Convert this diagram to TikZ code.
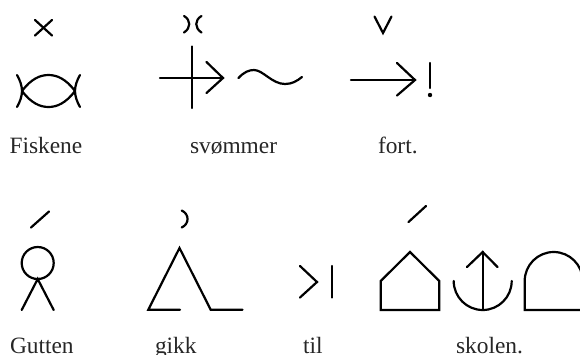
\documentclass[tikz,border=0pt]{standalone}
\usepackage{fontspec}
\setmainfont{Liberation Serif}
\tikzset{
  bliss/.style={draw=black,line width=2.2pt,line cap=round,line join=miter},
  word/.style={anchor=base west,inner sep=0pt,outer sep=0pt,text=black!85,font=\fontsize{23.4}{26}\selectfont}
}
\begin{document}
\begin{tikzpicture}[x=1pt,y=-1pt]
\useasboundingbox (0,0) rectangle (580,354);
\clip (0,0) rectangle (580,354);
% Row 1: fish
\draw[bliss] (35,20) -- (52,35.5) (52,20) -- (35,35.5);
\draw[bliss] (22,91) .. controls (31,79) and (40,75) .. (48.5,75) .. controls (57,75) and (66,79) .. (75,91);
\draw[bliss] (22,91) .. controls (31,103) and (40,107) .. (48.5,107) .. controls (57,107) and (66,103) .. (75,91);
\draw[bliss] (17,75) .. controls (20,80) and (22,86) .. (22,91) .. controls (22,96) and (20,102) .. (17,107);
\draw[bliss] (80,75) .. controls (77,80) and (75,86) .. (75,91) .. controls (75,96) and (77,102) .. (80,107);
% swim
\draw[bliss] (184,16) .. controls (191,20) and (191,28) .. (184,32.5);
\draw[bliss] (201.5,16) .. controls (194.5,20) and (194.5,28) .. (201.5,32.5);
\draw[bliss] (191.7,46.5) -- (191.7,108);
\draw[bliss] (160,78) -- (223,78);
\draw[bliss] (206.5,62) -- (223,78) -- (206.5,93);
\draw[bliss] (238.5,78) .. controls (244,72) and (249,70) .. (254,70) .. controls (263,70) and (272,84) .. (285,84) .. controls (292,84) and (297,81) .. (302,77);
% fast
\draw[bliss] (374.5,16.5) -- (383,33) -- (391.5,16.5);
\draw[bliss] (351,80) -- (415,80);
\draw[bliss] (397,63) -- (415,80) -- (397,95.5);
\draw[bliss] (430,63) -- (430,88);
\fill[black] (430,95) circle (2.2);
% Row 2: boy
\draw[bliss] (31,227.5) -- (49,211.5);
\draw[bliss] (37.7,263) circle (16);
\draw[bliss] (21.7,310) -- (37.7,279) -- (53.7,310);
% went
\draw[bliss] (181.7,210.5) .. controls (189.5,214) and (189.5,224) .. (181.7,227.5);
\draw[bliss] (180,309.7) -- (148.3,309.7) -- (179.5,248) -- (210.7,309.7) -- (242.5,309.7);
% to
\draw[bliss] (300,266) -- (317,282) -- (300,297.5);
\draw[bliss] (332,266) -- (332,297.5);
% school
\draw[bliss] (408.5,222) -- (426,206);
\draw[bliss] (380.7,310) -- (380.7,281) -- (410,252) -- (439.3,281) -- (439.3,310) -- cycle;
\draw[bliss] (453.7,281) .. controls (453.7,297) and (466.7,310) .. (482.7,310) .. controls (498.7,310) and (511.7,297) .. (511.7,281);
\draw[bliss] (482.7,252) -- (482.7,310);
\draw[bliss] (467,267) -- (482.7,252) -- (497.5,267);
\draw[bliss] (524.7,310) -- (524.7,281) .. controls (524.7,265) and (537.7,252) .. (553.7,252) .. controls (569.7,252) and (582.7,265) .. (582.7,281) -- (582.7,310) -- cycle;
% Words
\node[word] (w1) at (9.5,153.3) {Fiskene};
\node[word] (w2) at (190,153.3) {svømmer};
\node[word] (w3) at (378,153.3) {fort.};
\node[word] (w4) at (10,353) {Gutten};
\node[word] (w5) at (155,353) {gikk};
\node[word] (w6) at (303,353) {til};
\node[word] (w7) at (456,353) {skolen.};
\end{tikzpicture}
\end{document}
